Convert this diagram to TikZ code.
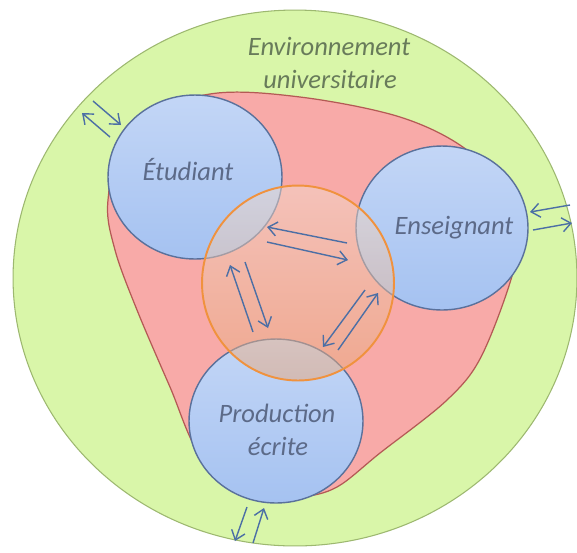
\documentclass[tikz,border=0pt]{standalone}
\usepackage{fontspec}
\setmainfont{Carlito}
\usetikzlibrary{arrows.meta}
\definecolor{greenfill}{HTML}{D9F6A9}
\definecolor{greenline}{HTML}{9DB870}
\definecolor{redfill}{HTML}{F8AAA8}
\definecolor{redline}{HTML}{B45A55}
\definecolor{bluetop}{HTML}{C3D6F6}
\definecolor{bluebot}{HTML}{A5C2F1}
\definecolor{blueline}{HTML}{5A719B}
\definecolor{orangeline}{HTML}{F0923E}
\definecolor{orangetop}{HTML}{F2DACB}
\definecolor{orangebot}{HTML}{E8A678}
\definecolor{arrowcol}{HTML}{4C6FA5}
\definecolor{titlecol}{HTML}{687B5A}
\definecolor{labelcol}{HTML}{5C6A88}
\begin{document}
\begin{tikzpicture}[x=0.02cm,y=-0.02cm,
  entity/.style={draw=blueline,line width=0.8pt,top color=bluetop,bottom color=bluebot},
  arr/.style={draw=arrowcol,line width=0.8pt,-{Straight Barb[length=5pt,width=8pt]}},
  lab/.style={text=labelcol,font=\fontsize{15.1}{19}\selectfont\itshape,inner sep=0pt,anchor=base}]
\useasboundingbox (0,0) rectangle (577,552);
\fill[white] (0,0) rectangle (577,552);
\clip (0,0) rectangle (577,552);
% environment
\draw[greenline, fill=greenfill, line width=0.6pt] (295,278) ellipse [x radius=5.64cm, y radius=5.36cm];
% red curved triangle
\draw[redline, fill=redfill, line width=0.7pt] plot[smooth cycle, tension=0.55] coordinates
 {(210,94) (300,97) (400,117) (467,150) (518,205) (515,265) (482,355) (447,400) (380,453) (337,487) (300,497) (250,496) (200,455) (170,387) (137,310) (115,250) (108,200) (128,125)};
% entities
\draw[entity] (195,177) ellipse [x radius=1.74cm, y radius=1.64cm];
\draw[entity] (442,228) ellipse [x radius=1.72cm, y radius=1.64cm];
\draw[entity] (276,421) ellipse [x radius=1.74cm, y radius=1.64cm];
% central circle
\path[top color=orangetop, bottom color=orangebot, fill opacity=0.5] (298,283) ellipse [x radius=1.92cm, y radius=1.95cm];
\draw[orangeline, line width=1.1pt] (298,283) ellipse [x radius=1.92cm, y radius=1.95cm];
% arrow end points
\coordinate (tlAs) at (110,137); \coordinate (tlAe) at (82,113);
\coordinate (tlBs) at (93,101);  \coordinate (tlBe) at (121,125);
\coordinate (rAs) at (570,205);  \coordinate (rAe) at (530,212);
\coordinate (rBs) at (533,230);  \coordinate (rBe) at (572,223);
\coordinate (bAs) at (247,507);  \coordinate (bAe) at (235,541);
\coordinate (bBs) at (253,543);  \coordinate (bBe) at (264,508);
\coordinate (ctAs) at (347,243); \coordinate (ctAe) at (267,227);
\coordinate (ctBs) at (267,242); \coordinate (ctBe) at (348,260);
\coordinate (clAs) at (253,332); \coordinate (clAe) at (230,265);
\coordinate (clBs) at (245,262); \coordinate (clBe) at (268,328);
\coordinate (crAs) at (365,290); \coordinate (crAe) at (323,347);
\coordinate (crBs) at (338,350); \coordinate (crBe) at (378,293);
\draw[arr] (tlAs) -- (tlAe); \draw[arr] (tlBs) -- (tlBe);
\draw[arr] (rAs) -- (rAe);   \draw[arr] (rBs) -- (rBe);
\draw[arr] (bAs) -- (bAe);   \draw[arr] (bBs) -- (bBe);
\draw[arr] (ctAs) -- (ctAe); \draw[arr] (ctBs) -- (ctBe);
\draw[arr] (clAs) -- (clAe); \draw[arr] (clBs) -- (clBe);
\draw[arr] (crAs) -- (crAe); \draw[arr] (crBs) -- (crBe);
% labels
\node[lab, text=titlecol] (env1) at (329,55) {Environnement};
\node[lab, text=titlecol] (env2) at (330,88) {universitaire};
\node[lab] (etu) at (188,180) {Étudiant};
\node[lab] (ens) at (454,234) {Enseignant};
\node[lab] (prod1) at (277,422) {Production};
\node[lab] (prod2) at (278,455) {écrite};
\end{tikzpicture}
\end{document}
